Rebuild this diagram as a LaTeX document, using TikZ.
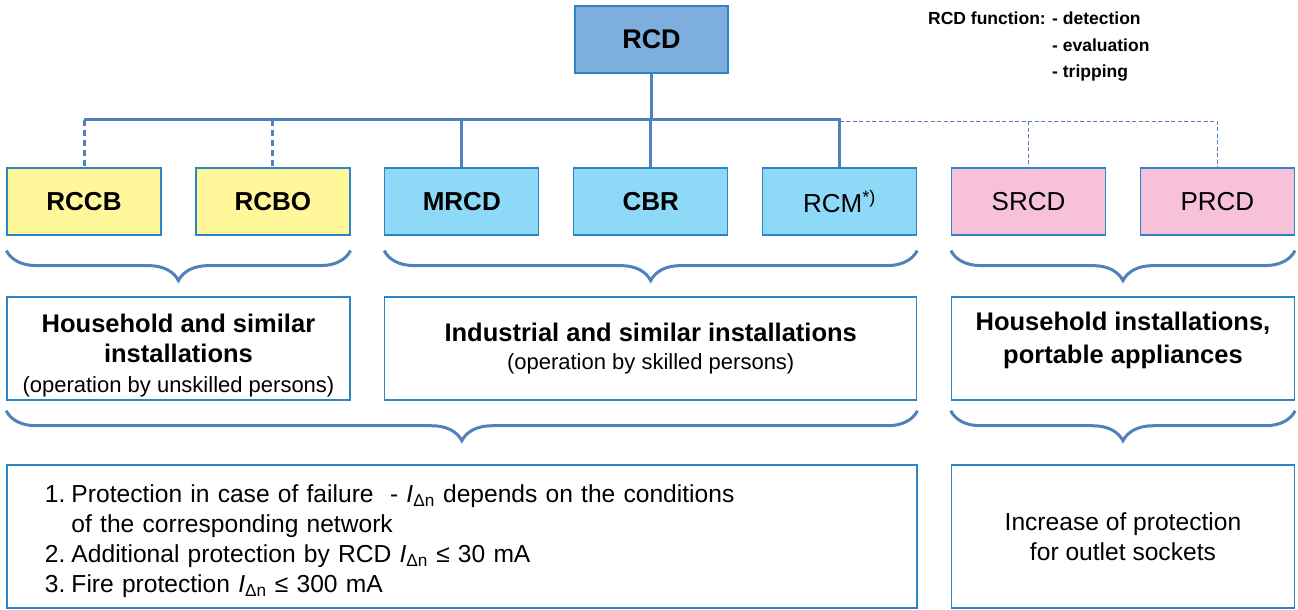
\documentclass[tikz,border=0pt]{standalone}
\usepackage{fontspec}
\setmainfont{Liberation Sans}
\usetikzlibrary{positioning,calc,decorations.pathreplacing}
\definecolor{RCDline}{HTML}{4F81BD}
\definecolor{RCDframe}{HTML}{2A84C6}
\definecolor{RCDhead}{HTML}{7DAEDD}
\definecolor{RCDyellow}{HTML}{FFF799}
\definecolor{RCDcyan}{HTML}{8ED8F8}
\definecolor{RCDpink}{HTML}{F7C1DA}
\tikzset{
  rcd/head/.style={draw=RCDframe, line width=1.5pt, fill=RCDhead, minimum width=153pt, minimum height=67pt, font=\fontsize{27}{30}\selectfont\bfseries},
  rcd/device/.style={draw=RCDframe, line width=1.2pt, minimum width=154pt, minimum height=67pt, font=\fontsize{26}{30}\selectfont},
  rcd/devbold/.style={rcd/device, font=\fontsize{26}{30}\selectfont\bfseries},
  rcd/group/.style={draw=RCDframe, line width=1.5pt, align=center, minimum height=103pt, font=\fontsize{25.5}{30}\selectfont\bfseries},
  rcd/use/.style={draw=RCDframe, line width=1.5pt, minimum height=143pt, font=\fontsize{24.6}{30}\selectfont},
  rcd/bus/.style={RCDline, line width=3pt},
  rcd/busdash/.style={rcd/bus, dash pattern=on 6pt off 4pt},
  rcd/opt/.style={RCDline, line width=1.3pt, dash pattern=on 4pt off 2.5pt},
  rcd/brace/.style={RCDline, line width=3pt, decorate, decoration={brace, mirror, amplitude=30pt}},
  rcd/fn/.style={font=\fontsize{17.5}{26.5}\selectfont\bfseries, inner sep=0pt, align=left}
}
\newcommand{\idn}{\textit{I}\textsubscript{Δn}}
\newcommand{\opnote}[1]{{\fontsize{22}{30}\selectfont\mdseries #1}}

\begin{document}
\begin{tikzpicture}[x=1pt, y=1pt, node distance=33.7pt]
  \useasboundingbox (0,0) rectangle (1298,610);
  % top and device row
  \node[rcd/head] (rcd) at (651.5,570.5) {RCD};
  \node[rcd/devbold, fill=RCDyellow] (rccb) at (84,408.5) {RCCB};
  \node[rcd/devbold, fill=RCDyellow, right=of rccb] (rcbo) {RCBO};
  \node[rcd/devbold, fill=RCDcyan, right=of rcbo] (mrcd) {MRCD};
  \node[rcd/devbold, fill=RCDcyan, right=of mrcd] (cbr) {CBR};
  \node[rcd/device, fill=RCDcyan, right=of cbr] (rcm) {RCM\textsuperscript{*)}};
  \node[rcd/device, fill=RCDpink, right=of rcm] (srcd) {SRCD};
  \node[rcd/device, fill=RCDpink, right=of srcd] (prcd) {PRCD};
  \node[rcd/fn, anchor=north west] (fn) at (928,598) {RCD function:};
  \node[rcd/fn, right=6pt of fn.north east, anchor=north west] (fnlist) {- detection\\- evaluation\\- tripping};

  % connectors
  \coordinate (bus) at (651.5,490);
  \coordinate (opt) at (840.5,488.5);
  \draw[rcd/bus] (rcd) -- (rcd |- bus);
  \draw[rcd/bus] (rccb.north |- bus) -- (rcm.north |- bus) -- (rcm.north);
  \draw[rcd/bus] (mrcd.north |- bus) -- (mrcd.north);
  \draw[rcd/bus] (cbr.north |- bus) -- (cbr.north);
  \draw[rcd/busdash] (rccb.north |- bus) -- (rccb.north);
  \draw[rcd/busdash] (rcbo.north |- bus) -- (rcbo.north);
  \draw[rcd/opt] (rcm.north |- opt) -- (prcd.north |- opt) -- (prcd.north);
  \draw[rcd/opt] (srcd.north |- opt) -- (srcd.north);

  % braces and groups
  \draw[rcd/brace] ([yshift=-15pt]rccb.south west) -- ([yshift=-15pt]rcbo.south east);
  \draw[rcd/brace] ([yshift=-15pt]mrcd.south west) -- ([yshift=-15pt]rcm.south east);
  \draw[rcd/brace] ([yshift=-15pt]srcd.south west) -- ([yshift=-15pt]prcd.south east);
  \node[rcd/group, minimum width=343pt, yshift=-147pt] (home) at ($(rccb)!.5!(rcbo)$)
    {Household and similar\\installations\\\opnote{(operation by unskilled persons)}\\[-40pt]};
  \node[rcd/group, minimum width=532pt, yshift=-147pt] (industry) at ($(mrcd)!.5!(rcm)$)
    {Industrial and similar installations\\[-2pt]\opnote{(operation by skilled persons)}};
  \node[rcd/group, minimum width=343pt, yshift=-147pt, font=\fontsize{25.5}{33}\selectfont\bfseries] (portable) at ($(srcd)!.5!(prcd)$)
    {Household installations,\\portable appliances\\[-12pt]};

  % lower braces and uses
  \draw[rcd/brace] ([yshift=-10pt]home.south west) -- ([yshift=-10pt]industry.south east);
  \draw[rcd/brace] ([yshift=-10pt]portable.south west) -- ([yshift=-10pt]portable.south east);
  \node[rcd/use, text width=834pt, inner xsep=38pt, align=left, yshift=-188pt] (rules) at ($(home.west)!.5!(industry.east)$)
    {\begin{tabular}{@{}l@{\hspace{0.25em}}l@{}}
      1. & Protection in case of failure \ - \idn{} depends on the conditions\\
         & of the corresponding network\\
      2. & Additional protection by RCD \idn{} ≤ 30 mA\\
      3. & Fire protection \idn{} ≤ 300 mA\\[-10pt]
    \end{tabular}};
  \node[rcd/use, minimum width=343pt, align=center, yshift=-188pt] (sockets) at (portable)
    {Increase of protection\\for outlet sockets};
\end{tikzpicture}
\end{document}
